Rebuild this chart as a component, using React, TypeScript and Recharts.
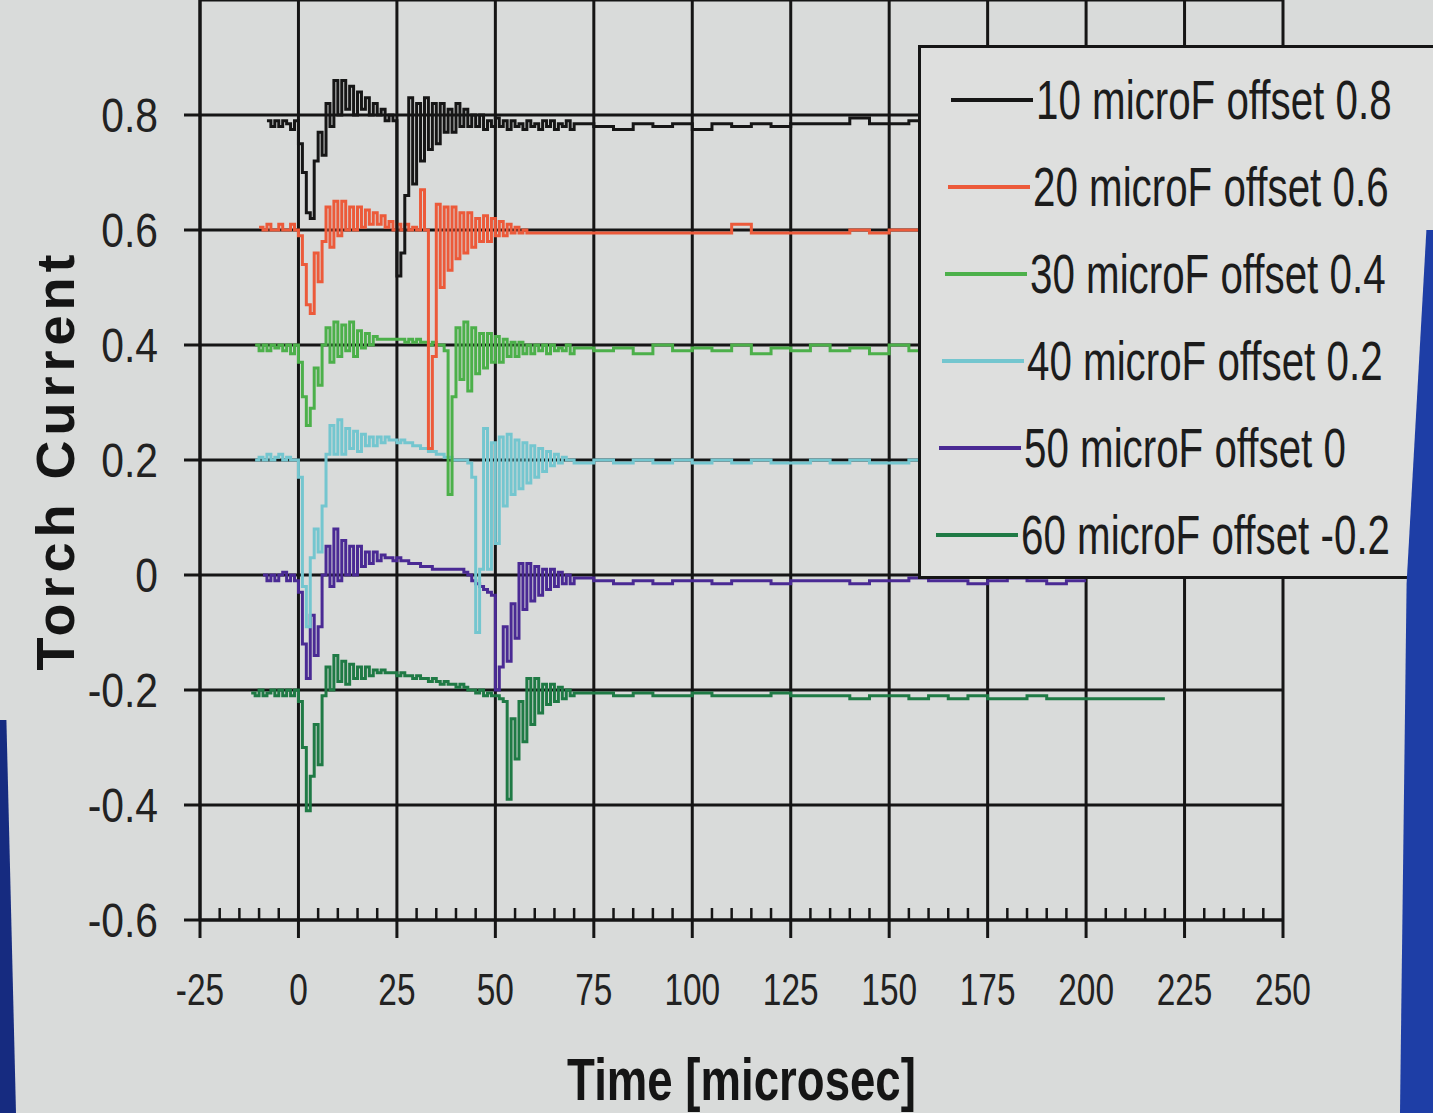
import { LineChart, Line, XAxis, YAxis, CartesianGrid, ReferenceLine, Legend } from 'recharts'

// sample times (microsec): 1 us steps through the transient, 5 us steps in the tail
const time = [
  -12, -11, -10, -9, -8, -7, -6, -5, -4, -3, -2, -1,
  0, 1, 2, 3, 4, 5, 6, 7, 8, 9,
  10, 11, 12, 13, 14, 15, 16, 17, 18, 19,
  20, 21, 22, 23, 24, 25, 26, 27, 28, 29,
  30, 31, 32, 33, 34, 35, 36, 37, 38, 39,
  40, 41, 42, 43, 44, 45, 46, 47, 48, 49,
  50, 51, 52, 53, 54, 55, 56, 57, 58, 59,
  60, 61, 62, 63, 64, 65, 66, 67, 68, 69, 70,
  75, 80, 85, 90, 95, 100, 105, 110, 115, 120,
  125, 130, 135, 140, 145, 150, 155, 160, 165, 170,
  175, 180, 185, 190, 195, 200, 205, 210, 215, 220,
]

const uF10 = [
  null, null, null, null, 0.79, 0.78, 0.79, 0.78, 0.79, 0.785, 0.775, 0.79,
  0.75, 0.70, 0.63, 0.62, 0.72, 0.77, 0.73, 0.82, 0.78, 0.86,
  0.80, 0.86, 0.81, 0.85, 0.80, 0.84, 0.81, 0.83, 0.80, 0.82,
  0.80, 0.81, 0.79, 0.80, 0.79, 0.52, 0.56, 0.66, 0.83, 0.68,
  0.82, 0.72, 0.83, 0.74, 0.82, 0.75, 0.82, 0.77, 0.81, 0.77,
  0.82, 0.78, 0.81, 0.78, 0.80, 0.78, 0.80, 0.775, 0.79, 0.78,
  0.795, 0.78, 0.79, 0.775, 0.79, 0.78, 0.785, 0.775, 0.79, 0.78,
  0.785, 0.775, 0.79, 0.78, 0.79, 0.775, 0.785, 0.78, 0.79, 0.775, 0.785,
  0.78, 0.775, 0.785, 0.78, 0.785, 0.775, 0.785, 0.78, 0.785, 0.78,
  0.785, 0.785, 0.785, 0.795, 0.785, 0.785, 0.79, 0.795, 0.785, 0.795,
  0.79, 0.79, 0.79, 0.79, 0.79, 0.79, null, null, null, null,
]

const uF20 = [
  null, null, 0.605, 0.60, 0.61, 0.60, 0.60, 0.61, 0.60, 0.60, 0.61, 0.60,
  0.59, 0.54, 0.47, 0.455, 0.56, 0.51, 0.58, 0.64, 0.57, 0.65,
  0.59, 0.65, 0.60, 0.64, 0.60, 0.64, 0.605, 0.635, 0.61, 0.63,
  0.61, 0.625, 0.605, 0.615, 0.60, 0.61, 0.60, 0.61, 0.60, 0.605,
  0.60, 0.67, 0.60, 0.22, 0.38, 0.645, 0.50, 0.64, 0.53, 0.64,
  0.55, 0.63, 0.56, 0.63, 0.57, 0.62, 0.58, 0.625, 0.58, 0.62,
  0.59, 0.615, 0.59, 0.61, 0.595, 0.605, 0.595, 0.60, 0.595, 0.595,
  0.595, 0.595, 0.595, 0.595, 0.595, 0.595, 0.595, 0.595, 0.595, 0.595, 0.595,
  0.595, 0.595, 0.595, 0.595, 0.595, 0.595, 0.595, 0.61, 0.595, 0.595,
  0.595, 0.595, 0.595, 0.60, 0.595, 0.60, 0.60, 0.595, 0.60, 0.60,
  0.595, 0.595, 0.595, 0.595, 0.595, 0.595, null, null, null, null,
]

const uF30 = [
  null, 0.40, 0.39, 0.40, 0.39, 0.40, 0.395, 0.40, 0.39, 0.40, 0.385, 0.40,
  0.37, 0.31, 0.26, 0.29, 0.36, 0.33, 0.40, 0.43, 0.37, 0.44,
  0.38, 0.435, 0.39, 0.44, 0.38, 0.425, 0.395, 0.42, 0.40, 0.415,
  0.41, 0.41, 0.41, 0.41, 0.41, 0.41, 0.41, 0.405, 0.41, 0.405,
  0.41, 0.405, 0.405, 0.40, 0.405, 0.40, 0.40, 0.39, 0.14, 0.31,
  0.43, 0.34, 0.44, 0.32, 0.43, 0.35, 0.42, 0.36, 0.42, 0.37,
  0.415, 0.37, 0.41, 0.38, 0.405, 0.38, 0.405, 0.385, 0.40, 0.385,
  0.40, 0.39, 0.40, 0.385, 0.40, 0.39, 0.395, 0.39, 0.40, 0.385, 0.395,
  0.39, 0.395, 0.385, 0.40, 0.39, 0.395, 0.39, 0.40, 0.385, 0.395,
  0.39, 0.40, 0.39, 0.395, 0.385, 0.40, 0.39, 0.395, 0.39, 0.40,
  0.39, 0.395, 0.39, 0.395, 0.39, 0.395, null, null, null, null,
]

const uF40 = [
  null, 0.20, 0.205, 0.20, 0.21, 0.20, 0.205, 0.21, 0.20, 0.205, 0.20, 0.20,
  0.17, -0.02, -0.09, 0.03, 0.08, 0.04, 0.12, 0.21, 0.26, 0.21,
  0.27, 0.21, 0.255, 0.22, 0.25, 0.215, 0.245, 0.225, 0.24, 0.225,
  0.24, 0.23, 0.24, 0.235, 0.235, 0.23, 0.235, 0.23, 0.23, 0.225,
  0.225, 0.22, 0.22, 0.215, 0.215, 0.21, 0.21, 0.205, 0.205, 0.20,
  0.20, 0.20, 0.20, 0.195, 0.17, -0.10, 0.01, 0.255, 0.01, 0.23,
  0.055, 0.24, 0.12, 0.245, 0.14, 0.235, 0.15, 0.23, 0.16, 0.225,
  0.17, 0.22, 0.18, 0.215, 0.19, 0.21, 0.195, 0.205, 0.20, 0.20, 0.195,
  0.20, 0.195, 0.20, 0.195, 0.20, 0.195, 0.20, 0.195, 0.20, 0.195,
  0.195, 0.20, 0.195, 0.20, 0.195, 0.195, 0.20, 0.195, 0.20, 0.195,
  0.195, 0.195, 0.195, 0.195, 0.195, 0.195, null, null, null, null,
]

const uF50 = [
  null, null, null, 0.00, -0.01, 0.00, -0.01, 0.00, 0.005, -0.01, 0.00, -0.01,
  -0.03, -0.12, -0.18, -0.07, -0.14, -0.09, 0.00, 0.05, -0.02, 0.08,
  -0.01, 0.06, 0.00, 0.05, 0.00, 0.05, 0.015, 0.04, 0.02, 0.04,
  0.025, 0.035, 0.03, 0.03, 0.025, 0.03, 0.025, 0.025, 0.02, 0.02,
  0.02, 0.015, 0.015, 0.015, 0.01, 0.01, 0.01, 0.01, 0.01, 0.01,
  0.01, 0.01, 0.005, 0.00, -0.01, -0.015, -0.02, -0.025, -0.03, -0.035,
  -0.20, -0.16, -0.09, -0.15, -0.05, -0.11, 0.02, -0.06, 0.02, -0.045,
  0.015, -0.035, 0.01, -0.025, 0.01, -0.02, 0.005, -0.015, 0.00, -0.015, -0.005,
  -0.01, -0.015, -0.01, -0.015, -0.01, -0.01, -0.015, -0.01, -0.01, -0.015,
  -0.01, -0.01, -0.01, -0.015, -0.01, -0.01, -0.005, -0.01, -0.01, -0.015,
  -0.01, -0.005, -0.01, -0.015, -0.01, -0.01, null, null, null, null,
]

const uF60 = [
  -0.205, -0.21, -0.20, -0.21, -0.205, -0.20, -0.21, -0.20, -0.21, -0.20, -0.21, -0.20,
  -0.22, -0.30, -0.41, -0.35, -0.26, -0.33, -0.21, -0.16, -0.20, -0.14,
  -0.185, -0.15, -0.19, -0.155, -0.18, -0.16, -0.18, -0.16, -0.175, -0.165,
  -0.17, -0.165, -0.17, -0.17, -0.17, -0.175, -0.17, -0.175, -0.175, -0.18,
  -0.175, -0.18, -0.18, -0.185, -0.18, -0.185, -0.19, -0.185, -0.19, -0.19,
  -0.195, -0.19, -0.195, -0.20, -0.20, -0.205, -0.20, -0.21, -0.205, -0.21,
  -0.21, -0.215, -0.22, -0.39, -0.25, -0.32, -0.22, -0.29, -0.18, -0.26,
  -0.18, -0.24, -0.19, -0.225, -0.19, -0.22, -0.195, -0.215, -0.20, -0.21, -0.205,
  -0.205, -0.21, -0.205, -0.21, -0.21, -0.205, -0.21, -0.21, -0.21, -0.205,
  -0.21, -0.21, -0.21, -0.215, -0.21, -0.21, -0.215, -0.21, -0.215, -0.21,
  -0.215, -0.215, -0.21, -0.215, -0.215, -0.215, -0.215, -0.215, -0.215, -0.215,
]

const xMajor = [-25, 0, 25, 50, 75, 100, 125, 150, 175, 200, 225, 250]
const xTicks = [
  -25, -20, -15, -10, -5, 0, 5, 10, 15, 20, 25, 30, 35, 40, 45, 50, 55, 60, 65, 70,
  75, 80, 85, 90, 95, 100, 105, 110, 115, 120, 125, 130, 135, 140, 145, 150, 155, 160,
  165, 170, 175, 180, 185, 190, 195, 200, 205, 210, 215, 220, 225, 230, 235, 240, 245, 250,
]
const yTicks = [-0.6, -0.4, -0.2, 0, 0.2, 0.4, 0.6, 0.8]

const series = [
  { key: 'c10', name: '10 microF offset 0.8', color: '#161616', values: uF10 },
  { key: 'c20', name: '20 microF offset 0.6', color: '#ec5a3a', values: uF20 },
  { key: 'c30', name: '30 microF offset 0.4', color: '#4cb04a', values: uF30 },
  { key: 'c40', name: '40 microF offset 0.2', color: '#74c6cf', values: uF40 },
  { key: 'c50', name: '50 microF offset 0', color: '#4a2a94', values: uF50 },
  { key: 'c60', name: '60 microF offset -0.2', color: '#1f7a45', values: uF60 },
]

const rows = time.map((t, i) => {
  const r: Record<string, number | null> = { t }
  series.forEach(s => { r[s.key] = s.values[i] })
  return r
})

const INK = '#151515'
const sans = '"Liberation Sans", Arial, sans-serif'

// eslint-disable-next-line @typescript-eslint/no-explicit-any
function XTick({ x, y, payload }: any) {
  const v = payload.value
  if (v % 25 !== 0) {
    return <line x1={x} x2={x} y1={y - 12} y2={y} stroke={INK} strokeWidth={2.5} />
  }
  return (
    <g>
      <line x1={x} x2={x} y1={y} y2={y + 18} stroke={INK} strokeWidth={3} />
      <text
        transform={`translate(${x} ${y + 70}) scale(0.76 1)`} textAnchor="middle" dominantBaseline="central"
        fontSize={44} fontFamily={sans} fill="#222"
      >
        {v}
      </text>
    </g>
  )
}

// eslint-disable-next-line @typescript-eslint/no-explicit-any
function YTick({ x, y, payload }: any) {
  return (
    <text
      transform={`translate(${x} ${y}) scale(0.85 1)`} textAnchor="end" dominantBaseline="central"
      fontSize={48} fontFamily={sans} fill="#222"
    >
      {String(payload.value)}
    </text>
  )
}

// eslint-disable-next-line @typescript-eslint/no-explicit-any
function LegendBox({ payload }: any) {
  const order = series.map(s => s.name)
  const items = [...(payload ?? [])].sort((a, b) => order.indexOf(a.value) - order.indexOf(b.value))
  return (
    <div
      style={{
        boxSizing: 'border-box', width: 530, height: 534, background: '#dedfde',
        borderLeft: `3px solid ${INK}`, borderTop: `3px solid ${INK}`, borderBottom: `3px solid ${INK}`,
        paddingTop: 8,
      }}
    >
      {items.map((it, i) => (
        <div key={it.value} style={{ display: 'flex', alignItems: 'center', height: 87 }}>
          <span style={{ flex: 'none', width: 82, height: 4, marginLeft: 30 - i * 3, background: it.color }} />
          <span
            style={{
              display: 'inline-block', fontFamily: sans, fontSize: 56, lineHeight: '60px', color: '#1c1c1c',
              marginLeft: 3, whiteSpace: 'nowrap', transform: 'scaleX(0.72)', transformOrigin: 'left center',
            }}
          >
            {it.value}
          </span>
        </div>
      ))}
    </div>
  )
}

// eslint-disable-next-line @typescript-eslint/no-explicit-any
function YTitle({ viewBox }: any) {
  const cx = viewBox.x + 55
  const cy = viewBox.y + viewBox.height / 2
  return (
    <text
      x={cx} y={cy} transform={`rotate(-90, ${cx}, ${cy})`} textAnchor="middle" dominantBaseline="central"
      fontFamily={sans} fontWeight="bold" fontSize={54} letterSpacing={5} fill={INK}
    >
      Torch Current
    </text>
  )
}

// eslint-disable-next-line @typescript-eslint/no-explicit-any
function XTitle({ viewBox }: any) {
  const cx = viewBox.x + viewBox.width / 2
  const by = viewBox.y + viewBox.height - 13
  return (
    <text
      transform={`translate(${cx} ${by}) scale(0.76 1)`} textAnchor="middle"
      fontFamily={sans} fontWeight="bold" fontSize={60} fill={INK}
    >
      Time [microsec]
    </text>
  )
}

export default function App() {
  return (
    <div style={{ position: 'absolute', left: 0, top: 0, width: 1433, height: 1113, background: '#d9dbda', overflow: 'hidden' }}>
      <LineChart width={1433} height={1113} data={rows} margin={{ top: 0, right: 150, bottom: 0, left: 0 }}>
        <CartesianGrid vertical={false} stroke={INK} strokeWidth={3} strokeOpacity={1} />
        {xMajor.map(v => (
          <ReferenceLine key={v} x={v} stroke={INK} strokeWidth={3} />
        ))}
        <XAxis
          dataKey="t"
          type="number"
          domain={[-25, 250]}
          ticks={xTicks}
          interval={0}
          height={193}
          tickSize={0}
          tickMargin={0}
          axisLine={{ stroke: INK, strokeWidth: 3 }}
          tick={<XTick />}
          label={<XTitle />}
        />
        <YAxis
          type="number"
          domain={[-0.6, 1.0]}
          ticks={yTicks}
          width={200}
          tickSize={16}
          tickMargin={26}
          axisLine={{ stroke: INK, strokeWidth: 3 }}
          tickLine={{ stroke: INK, strokeWidth: 3 }}
          tick={<YTick />}
          label={<YTitle />}
        />
        <Legend
          layout="vertical"
          align="center"
          verticalAlign="middle"
          content={<LegendBox />}
          wrapperStyle={{ left: 918, top: 45, width: 530, height: 534 }}
        />
        {[...series].reverse().map(s => (
          <Line
            key={s.key}
            dataKey={s.key}
            name={s.name}
            type="stepAfter"
            stroke={s.color}
            strokeWidth={3}
            dot={false}
            activeDot={false}
            isAnimationActive={false}
          />
        ))}
      </LineChart>
      <div
        style={{
          position: 'absolute', left: 1400, top: 230, width: 33, height: 883, background: '#1e3ea6', zIndex: 5,
          clipPath: 'polygon(80% 0, 100% 0, 100% 100%, 0 100%, 20% 40%)',
        }}
      />
      <div
        style={{
          position: 'absolute', left: 0, top: 720, width: 16, height: 393, background: '#162b80', zIndex: 5,
          clipPath: 'polygon(0 0, 40% 0, 100% 100%, 0 100%)',
        }}
      />
    </div>
  )
}
